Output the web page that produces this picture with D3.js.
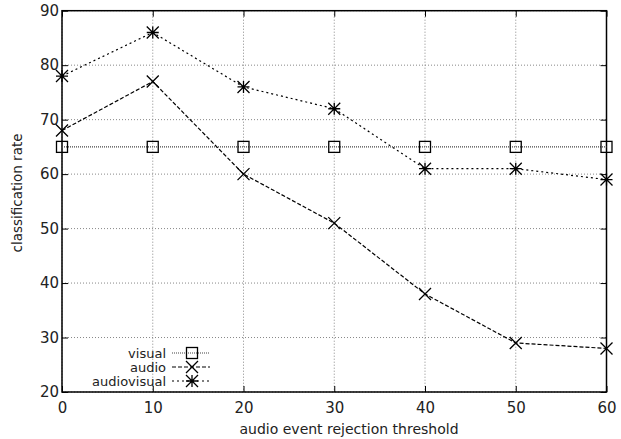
<!DOCTYPE html>
<html>
<head>
<meta charset="utf-8">
<script src="https://cdn.jsdelivr.net/npm/d3@7"></script>
<style>
  body { margin: 0; background: #fff; }
  text { font-family: "DejaVu Sans", sans-serif; fill: #222; }
</style>
</head>
<body>
<div id="chart"></div>
<script>
// thresholds on the x axis
const thresholds = [0, 10, 20, 30, 40, 50, 60];
// classification rates per series
const visual = [65, 65, 65, 65, 65, 65, 65];
const audio = [68, 77, 60, 51, 38, 29, 28];
const audiovisual = [78, 86, 76, 72, 61, 61, 59];
const xTicks = [0, 10, 20, 30, 40, 50, 60];
const yTicks = [20, 30, 40, 50, 60, 70, 80, 90];

const width = 621, height = 439;
const plotL = 62, plotR = 606.5, plotT = 10.7, plotB = 392;

const svg = d3.select('#chart').append('svg')
  .attr('width', width)
  .attr('height', height);

const x = d3.scaleLinear().domain([0, 60]).range([plotL, plotR]);
const y = d3.scaleLinear().domain([20, 90]).range([plotB, plotT]);

// grid
const grid = svg.append('g')
  .attr('stroke', '#888')
  .attr('stroke-width', 1)
  .attr('stroke-dasharray', '1,2');
grid.selectAll('.gy').data(yTicks).enter().append('line')
  .attr('x1', plotL).attr('x2', plotR)
  .attr('y1', d => y(d)).attr('y2', d => y(d));
grid.selectAll('.gx').data(xTicks).enter().append('line')
  .attr('y1', plotT).attr('y2', plotB)
  .attr('x1', d => x(d)).attr('x2', d => x(d));

// ticks (inside, mirrored)
const tick = 6;
function tickAxis(axis, tr) {
  const g = svg.append('g').attr('transform', tr).call(axis);
  g.select('.domain').remove();
  g.selectAll('line').attr('stroke', '#000');
  return g;
}
const gb = tickAxis(d3.axisBottom(x).tickValues(xTicks).tickSize(-tick).tickPadding(10), `translate(0,${plotB})`);
gb.selectAll('text').attr('font-size', 15).attr('font-family', '"DejaVu Sans", sans-serif').attr('fill', '#222');
const gt = tickAxis(d3.axisTop(x).tickValues(xTicks).tickSize(-tick), `translate(0,${plotT})`);
gt.selectAll('text').remove();
const gl = tickAxis(d3.axisLeft(y).tickValues(yTicks).tickSize(-tick).tickPadding(3), `translate(${plotL},0)`);
gl.selectAll('text').attr('font-size', 15).attr('font-family', '"DejaVu Sans", sans-serif').attr('fill', '#222');
const gr = tickAxis(d3.axisRight(y).tickValues(yTicks).tickSize(-tick), `translate(${plotR},0)`);
gr.selectAll('text').remove();

// frame
svg.append('rect')
  .attr('x', plotL).attr('y', plotT)
  .attr('width', plotR - plotL).attr('height', plotB - plotT)
  .attr('fill', 'none').attr('stroke', '#000').attr('stroke-width', 1.5);

// axis titles
svg.append('text')
  .attr('x', 349).attr('y', 434)
  .attr('text-anchor', 'middle')
  .attr('font-size', 14)
  .text('audio event rejection threshold');
svg.append('text')
  .attr('transform', 'translate(22,193) rotate(-90)')
  .attr('text-anchor', 'middle')
  .attr('font-size', 13.5)
  .text('classification rate');

// markers
function marker(g, type, cx, cy) {
  const s = 6;
  if (type === 'square') {
    g.append('rect').attr('x', cx - 5.5).attr('y', cy - 5.5)
      .attr('width', 11).attr('height', 11)
      .attr('fill', 'none').attr('stroke', '#000').attr('stroke-width', 1.3);
  } else {
    const p = `M${cx - s},${cy - s}L${cx + s},${cy + s}M${cx - s},${cy + s}L${cx + s},${cy - s}` +
      (type === 'star' ? `M${cx - s},${cy}L${cx + s},${cy}M${cx},${cy - s}L${cx},${cy + s}` : '');
    g.append('path').attr('d', p).attr('stroke', '#000').attr('stroke-width', 1.3).attr('fill', 'none');
  }
}

const series = [
  { name: 'visual', values: visual, dash: '1,1', type: 'square' },
  { name: 'audio', values: audio, dash: '4,2', type: 'cross' },
  { name: 'audiovisual', values: audiovisual, dash: '2,3', type: 'star' }
];

const line = d3.line()
  .x((d, i) => x(thresholds[i]))
  .y(d => y(d));

series.forEach(s => {
  svg.append('path')
    .datum(s.values)
    .attr('d', line)
    .attr('fill', 'none')
    .attr('stroke', s.type === 'square' ? '#444' : '#000')
    .attr('stroke-width', 1.2)
    .attr('stroke-dasharray', s.dash);
  const g = svg.append('g');
  s.values.forEach((v, i) => marker(g, s.type, x(thresholds[i]), y(v)));
});

// legend
const legRows = [353, 367, 381];
series.forEach((s, i) => {
  const ly = legRows[i];
  svg.append('text')
    .attr('x', 166).attr('y', ly + 5)
    .attr('text-anchor', 'end')
    .attr('font-size', 13)
    .text(s.name);
  svg.append('line')
    .attr('x1', 172).attr('x2', 210)
    .attr('y1', ly).attr('y2', ly)
    .attr('stroke', s.type === 'square' ? '#444' : '#000').attr('stroke-width', 1.2)
    .attr('stroke-dasharray', s.dash);
  marker(svg, s.type, 192, ly);
});
</script>
</body>
</html>
